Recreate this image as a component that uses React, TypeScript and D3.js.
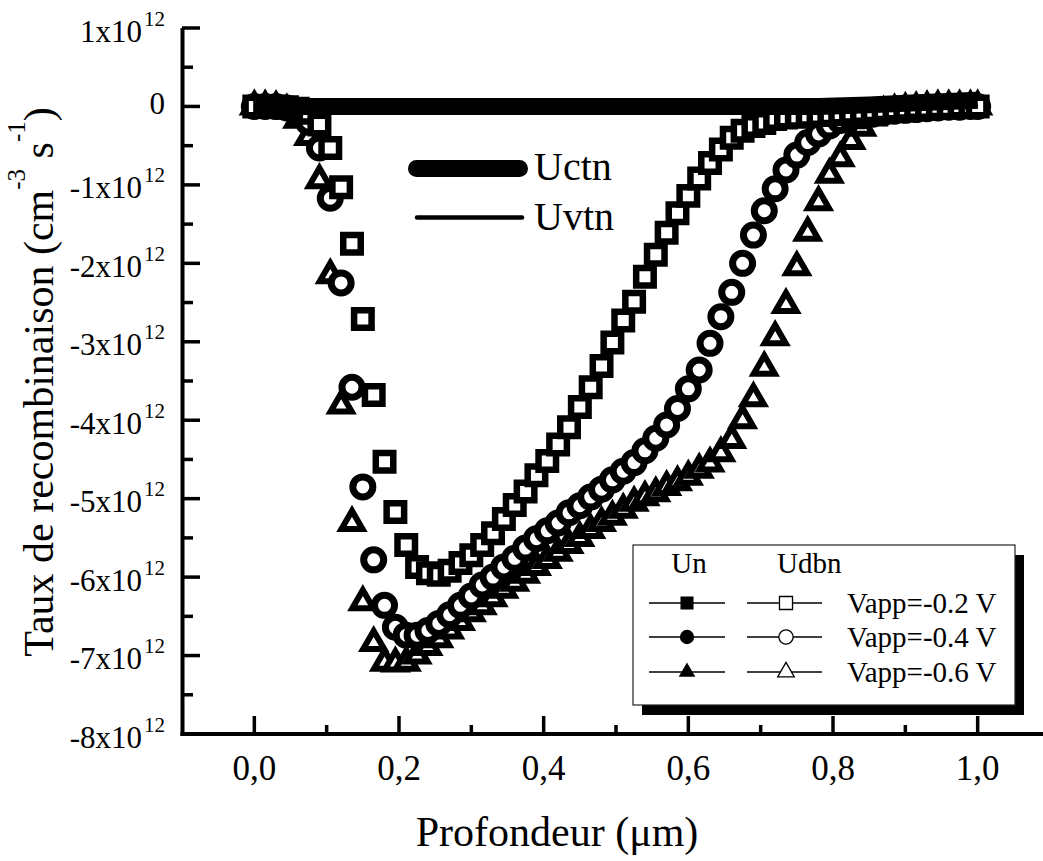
import React from 'react';
import * as d3 from 'd3';

const W = 1043;
const H = 861;

// depth grid (µm)
const depth = [
  0, 0.015, 0.03, 0.045, 0.06, 0.075, 0.09, 0.105, 0.12, 0.135,
  0.15, 0.165, 0.18, 0.195, 0.21, 0.225, 0.24, 0.255, 0.27, 0.285,
  0.3, 0.315, 0.33, 0.345, 0.36, 0.375, 0.39, 0.405, 0.42, 0.435,
  0.45, 0.465, 0.48, 0.495, 0.51, 0.525, 0.54, 0.555, 0.57, 0.585,
  0.6, 0.615, 0.63, 0.645, 0.66, 0.675, 0.69, 0.705, 0.72, 0.735,
  0.75, 0.765, 0.78, 0.795, 0.81, 0.825, 0.84, 0.855, 0.87, 0.885,
  0.9, 0.915, 0.93, 0.945, 0.96, 0.975, 0.99, 1.0,
];

// Udbn, units of 1e12 cm^-3 s^-1
const udbnV02 = [
  0, 0, 0, -0.01, -0.03, -0.08, -0.23, -0.53, -1.03, -1.75,
  -2.71, -3.68, -4.53, -5.17, -5.59, -5.87, -5.95, -5.97, -5.92, -5.82,
  -5.72, -5.59, -5.44, -5.26, -5.08, -4.91, -4.70, -4.52, -4.31, -4.09,
  -3.83, -3.58, -3.31, -3.01, -2.73, -2.49, -2.17, -1.89, -1.61, -1.36,
  -1.14, -0.92, -0.72, -0.55, -0.40, -0.31, -0.25, -0.21, -0.16, -0.14,
  -0.13, -0.12, -0.11, -0.10, -0.09, -0.08, -0.07, -0.06, -0.05, -0.04,
  -0.03, -0.02, -0.02, -0.01, -0.01, 0, 0, 0,
];
const udbnV04 = [
  0, 0, 0, -0.02, -0.07, -0.20, -0.53, -1.17, -2.25, -3.58,
  -4.85, -5.78, -6.36, -6.64, -6.74, -6.74, -6.68, -6.59, -6.48, -6.36,
  -6.24, -6.10, -6.00, -5.87, -5.76, -5.63, -5.51, -5.41, -5.31, -5.18,
  -5.09, -4.98, -4.88, -4.76, -4.65, -4.54, -4.39, -4.23, -4.06, -3.85,
  -3.60, -3.36, -3.02, -2.68, -2.37, -2.00, -1.64, -1.33, -1.05, -0.81,
  -0.62, -0.46, -0.35, -0.25, -0.18, -0.14, -0.12, -0.10, -0.08, -0.06,
  -0.05, -0.04, -0.03, -0.02, -0.01, -0.01, 0, 0,
];
const udbnV06 = [
  0, 0, -0.01, -0.05, -0.17, -0.39, -0.94, -2.15, -3.81, -5.31,
  -6.32, -6.84, -7.09, -7.10, -7.09, -7.00, -6.89, -6.79, -6.68, -6.57,
  -6.46, -6.37, -6.27, -6.16, -6.07, -5.97, -5.87, -5.78, -5.69, -5.59,
  -5.50, -5.40, -5.31, -5.23, -5.14, -5.05, -4.98, -4.93, -4.85, -4.79,
  -4.72, -4.63, -4.55, -4.42, -4.25, -4.00, -3.72, -3.33, -2.94, -2.53,
  -2.05, -1.61, -1.22, -0.87, -0.66, -0.44, -0.27, -0.14, -0.08, -0.05,
  -0.03, -0.02, -0.01, 0, 0, 0, 0, 0,
];

const uctnX = [0, 0.78, 0.85, 0.9, 0.95, 1.0];
const uctnY = [0, 0, 0.02, 0.04, 0.06, 0.08];
const uvtnX = [0, 1.0];
const uvtnY = [0, 0];

const xTicks = [0, 0.2, 0.4, 0.6, 0.8, 1.0];
const xTickLabels = ['0,0', '0,2', '0,4', '0,6', '0,8', '1,0'];
const xMinorTicks = [0.1, 0.3, 0.5, 0.7, 0.9];
const yTicks = [1, 0, -1, -2, -3, -4, -5, -6, -7, -8];
const yMinorTicks = [0.5, -0.5, -1.5, -2.5, -3.5, -4.5, -5.5, -6.5, -7.5];
const vappLabels = ['Vapp=-0.2 V', 'Vapp=-0.4 V', 'Vapp=-0.6 V'];

const TS: React.CSSProperties = { fontFamily: '"Liberation Serif", "Times New Roman", Times, serif' };

const x = d3.scaleLinear().domain([-0.1, 1.1]).range([182, 1050]);
const y = d3.scaleLinear().domain([-8, 1]).range([734, 28]);

const sqPath = d3.symbol().type(d3.symbolSquare).size(306)() as string;
const triPath = d3.symbol().type(d3.symbolTriangle).size(191)() as string;

const legSq = d3.symbol().type(d3.symbolSquare).size(170)() as string;
const legCi = d3.symbol().type(d3.symbolCircle).size(160)() as string;
const legTri = d3.symbol().type(d3.symbolTriangle).size(120)() as string;

const line = d3
  .line<[number, number]>()
  .x((d) => x(d[0]))
  .y((d) => y(d[1]));

export default function App() {
  const uctnPts = uctnX.map((v, i) => [v, uctnY[i]] as [number, number]);
  const uvtnPts = uvtnX.map((v, i) => [v, uvtnY[i]] as [number, number]);
  const legRowsY = [603, 637, 672];
  const legShapes = [legSq, legCi, legTri];

  return (
    <svg
      width={W}
      height={H}
      style={{ position: 'absolute', left: 0, top: 0, background: 'white' }}
    >
      <rect x={0} y={0} width={W} height={H} fill="white" />

      {/* markers: triangles, circles, squares */}
      {depth.map((d, i) => (
        <path
          key={'t' + i}
          d={triPath}
          transform={`translate(${x(d)},${y(udbnV06[i])})`}
          fill="white"
          stroke="black"
          strokeWidth={6}
          strokeLinejoin="miter"
        />
      ))}
      {depth.map((d, i) => (
        <circle
          key={'c' + i}
          cx={x(d)}
          cy={y(udbnV04[i])}
          r={10}
          fill="white"
          stroke="black"
          strokeWidth={7}
        />
      ))}
      {depth.map((d, i) => (
        <path
          key={'s' + i}
          d={sqPath}
          transform={`translate(${x(d)},${y(udbnV02[i])})`}
          fill="white"
          stroke="black"
          strokeWidth={6.5}
        />
      ))}

      {/* Uvtn / Uctn lines */}
      <path d={line(uvtnPts) as string} fill="none" stroke="black" strokeWidth={4} />
      <path d={line(uctnPts) as string} fill="none" stroke="black" strokeWidth={17} />

      {/* axes */}
      <line x1={182.5} y1={28} x2={182.5} y2={736} stroke="black" strokeWidth={4} />
      <line x1={180.5} y1={734} x2={W} y2={734} stroke="black" strokeWidth={4} />
      {yTicks.map((v) => (
        <line key={'yt' + v} x1={182} x2={200} y1={y(v)} y2={y(v)} stroke="black" strokeWidth={3.5} />
      ))}
      {yMinorTicks.map((v) => (
        <line key={'ym' + v} x1={182} x2={193} y1={y(v)} y2={y(v)} stroke="black" strokeWidth={3.5} />
      ))}
      {xTicks.map((v) => (
        <line key={'xt' + v} x1={x(v)} x2={x(v)} y1={734} y2={716} stroke="black" strokeWidth={3.5} />
      ))}
      {xMinorTicks.map((v) => (
        <line key={'xm' + v} x1={x(v)} x2={x(v)} y1={734} y2={725} stroke="black" strokeWidth={3.5} />
      ))}

      {/* tick labels */}
      {xTicks.map((v, i) => (
        <text key={'xl' + v} style={TS} x={x(v)} y={780} fontSize={35} textAnchor="middle">
          {xTickLabels[i]}
        </text>
      ))}
      {yTicks.map((v) =>
        v === 0 ? (
          <text key={'yl' + v} style={TS} x={165} y={y(v) + 7.5} fontSize={31} textAnchor="end">
            0
          </text>
        ) : (
          <text key={'yl' + v} style={TS} x={165} y={y(v) + 13.5} fontSize={31} textAnchor="end">
            <tspan>{`${v}x10`}</tspan>
            <tspan fontSize={21} dy={-16} dx={2}>
              12
            </tspan>
          </text>
        )
      )}

      {/* axis titles */}
      <text style={TS} x={557} y={846} fontSize={42} textAnchor="middle">
        Profondeur (μm)
      </text>
      <text style={TS} transform="translate(53,382) rotate(-90)" fontSize={42} textAnchor="middle">
        <tspan>Taux de recombinaison (cm</tspan>
        <tspan fontSize={25} dy={-28}>-3</tspan>
        <tspan dy={28}> s</tspan>
        <tspan fontSize={25} dy={-28}>-1</tspan>
        <tspan dy={28}>)</tspan>
      </text>

      {/* Uctn / Uvtn legend */}
      <line x1={416.5} x2={519.5} y1={168.5} y2={168.5} stroke="black" strokeWidth={17} strokeLinecap="round" />
      <text style={TS} x={534} y={180} fontSize={40}>Uctn</text>
      <line x1={417} x2={522} y1={217.5} y2={217.5} stroke="black" strokeWidth={4.5} strokeLinecap="round" />
      <text style={TS} x={534} y={230} fontSize={40}>Uvtn</text>

      {/* Vapp legend box */}
      <rect x={642} y={555} width={382} height={160} fill="black" />
      <rect x={633} y={545} width={382} height={160} fill="white" stroke="#222" strokeWidth={1.2} />
      <text style={TS} x={689} y={573} fontSize={29} textAnchor="middle">Un</text>
      <text style={TS} x={777} y={573} fontSize={29}>Udbn</text>
      {legRowsY.map((ry, i) => (
        <g key={'leg' + i}>
          <line x1={649} x2={725} y1={ry} y2={ry} stroke="black" strokeWidth={1.3} />
          <path d={legShapes[i]} transform={`translate(687,${ry})`} fill="black" />
          <line x1={747} x2={822} y1={ry} y2={ry} stroke="black" strokeWidth={1.3} />
          <path
            d={legShapes[i]}
            transform={`translate(786,${ry})`}
            fill="white"
            stroke="black"
            strokeWidth={1.3}
          />
          <text style={TS} x={847} y={ry + 10} fontSize={29}>
            {vappLabels[i]}
          </text>
        </g>
      ))}
    </svg>
  );
}
